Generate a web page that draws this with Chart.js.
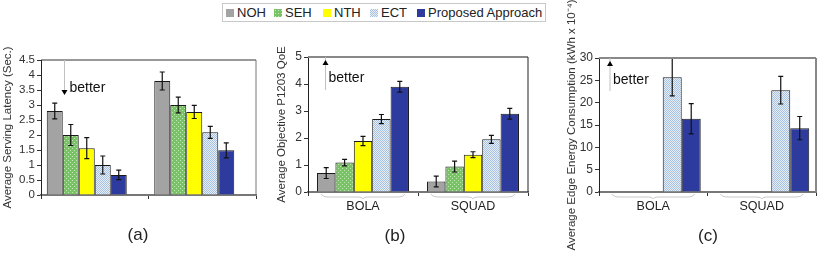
<!DOCTYPE html>
<html>
<head>
<meta charset="utf-8">
<script src="https://cdn.jsdelivr.net/npm/chart.js@4.4.1/dist/chart.umd.min.js"></script>
<style>
  html, body { margin:0; padding:0; background:#fff; }
  body { width:830px; height:263px; position:relative; overflow:hidden; font-family:'Liberation Sans', Arial, sans-serif; color:#222; }
  canvas { position:absolute; top:0; }
  #legend { position:absolute; left:222px; top:3px; width:322px; height:17px; border:1px solid #c8c8c8; z-index:2; background:#fff; font-size:13px; }
  #legend span.item { position:absolute; top:1px; white-space:nowrap; }
  #legend i { display:inline-block; width:8px; height:8px; margin-right:3px; vertical-align:0px; }
  .cap { position:absolute; font-size:17px; transform:translate(-50%,-50%); }
</style>
</head>
<body>
<div id="legend"></div>
<canvas id="latencyChart" width="270" height="263" style="left:0px"></canvas>
<canvas id="qoeChart" width="271" height="263" style="left:274px"></canvas>
<canvas id="energyChart" width="266" height="263" style="left:564px"></canvas>
<div class="cap" style="left:138px;top:235px">(a)</div>
<div class="cap" style="left:395px;top:236px">(b)</div>
<div class="cap" style="left:708px;top:236px">(c)</div>
<script>
// categories / series
const groups = ['BOLA', 'SQUAD'];
const seriesNames = ['NOH', 'SEH', 'NTH', 'ECT', 'Proposed Approach'];

// (a) average serving latency (sec.)
const latNOH  = [2.8, 3.8];
const latSEH  = [2.0, 3.0];
const latNTH  = [1.56, 2.77];
const latECT  = [1.0, 2.09];
const latProp = [0.67, 1.49];
const latErrNOH  = [0.26, 0.3];
const latErrSEH  = [0.35, 0.26];
const latErrNTH  = [0.35, 0.22];
const latErrECT  = [0.3, 0.2];
const latErrProp = [0.16, 0.25];

// (b) average objective P1203 QoE
const qoeNOH  = [0.7, 0.39];
const qoeSEH  = [1.09, 0.94];
const qoeNTH  = [1.89, 1.38];
const qoeECT  = [2.7, 1.95];
const qoeProp = [3.9, 2.9];
const qoeErrNOH  = [0.2, 0.2];
const qoeErrSEH  = [0.12, 0.2];
const qoeErrNTH  = [0.17, 0.11];
const qoeErrECT  = [0.17, 0.15];
const qoeErrProp = [0.2, 0.2];

// (c) average edge energy consumption (kWh x 10^-4)
const engNOH  = [0, 0];
const engSEH  = [0, 0];
const engNTH  = [0, 0];
const engECT  = [25.7, 22.8];
const engProp = [16.4, 14.3];
const engErrECT  = [4.2, 3.1];
const engErrProp = [3.4, 2.6];

// axis ranges
const latTicks = { min: 0, max: 4.5, step: 0.5 };
const qoeTicks = { min: 0, max: 5, step: 1 };
const engTicks = { min: 0, max: 30, step: 5 };

Chart.defaults.font.family = "'Liberation Sans', Arial, sans-serif";
Chart.defaults.color = '#333';

function makePattern(size, draw) {
  const c = document.createElement('canvas');
  c.width = size; c.height = size;
  draw(c.getContext('2d'));
  return c.getContext('2d').createPattern(c, 'repeat');
}
const greenDots = makePattern(4, g => {
  g.fillStyle = '#79c266'; g.fillRect(0, 0, 4, 4);
  g.fillStyle = '#bfe6b4'; g.fillRect(0, 0, 1, 1); g.fillRect(2, 2, 1, 1);
});
const blueCheck = makePattern(2, g => {
  g.fillStyle = '#e6eef8'; g.fillRect(0, 0, 2, 2);
  g.fillStyle = '#a9c1e0'; g.fillRect(0, 0, 1, 1); g.fillRect(1, 1, 1, 1);
});
const fills = ['#a3a3a3', greenDots, '#ffff00', blueCheck, '#2e3b9e'];

// legend
const legendPos = [3, 51, 100, 147, 194];
const swatchCss = [
  'background:#a3a3a3',
  'background:#79c266 radial-gradient(#c8ecc0 35%, transparent 40%) 0 0/3px 3px',
  'background:#ffff00',
  'background:repeating-conic-gradient(#a9c1e0 0 25%, #e6eef8 0 50%) 0 0/2px 2px',
  'background:#2e3b9e'
];
document.getElementById('legend').innerHTML = seriesNames.map((n, i) =>
  `<span class="item" style="left:${legendPos[i]}px"><i style="${swatchCss[i]}"></i>${n}</span>`).join('');

const errorBars = {
  id: 'errorBars',
  afterDatasetsDraw(chart) {
    const ctx = chart.ctx, y = chart.scales.y;
    chart.data.datasets.forEach((ds, i) => {
      if (!ds.errors) return;
      chart.getDatasetMeta(i).data.forEach((bar, j) => {
        const v = ds.data[j], e = ds.errors[j];
        if (!e) return;
        const t = y.getPixelForValue(v + e), b = y.getPixelForValue(v - e);
        ctx.save();
        ctx.strokeStyle = '#111'; ctx.lineWidth = 1.2;
        ctx.beginPath();
        ctx.moveTo(bar.x, t); ctx.lineTo(bar.x, b);
        ctx.moveTo(bar.x - 2.5, t); ctx.lineTo(bar.x + 2.5, t);
        ctx.moveTo(bar.x - 2.5, b); ctx.lineTo(bar.x + 2.5, b);
        ctx.stroke();
        ctx.restore();
      });
    });
  }
};

const decor = {
  id: 'decor',
  afterDraw(chart, args, o) {
    const ctx = chart.ctx, a = chart.chartArea;
    ctx.save();
    // frame top/right
    ctx.strokeStyle = o.topColor; ctx.lineWidth = o.topWidth;
    ctx.beginPath(); ctx.moveTo(a.left, a.top); ctx.lineTo(a.right, a.top); ctx.stroke();
    ctx.strokeStyle = o.rightColor; ctx.lineWidth = o.rightWidth;
    ctx.beginPath(); ctx.moveTo(a.right, a.top); ctx.lineTo(a.right, a.bottom); ctx.stroke();
    // "better" arrow
    const ax = a.left + o.arrowDx;
    ctx.strokeStyle = '#c0c0c0'; ctx.lineWidth = 1;
    ctx.beginPath(); ctx.moveTo(ax, a.top); ctx.lineTo(ax, a.top + 33); ctx.stroke();
    ctx.fillStyle = '#000';
    ctx.beginPath();
    if (o.up) {
      const ty = a.top + 3;
      ctx.moveTo(ax, ty); ctx.lineTo(ax - 3, ty + 5); ctx.lineTo(ax + 3, ty + 5);
    } else {
      const ty = a.top + 35;
      ctx.moveTo(ax, ty); ctx.lineTo(ax - 3, ty - 5); ctx.lineTo(ax + 3, ty - 5);
    }
    ctx.fill();
    ctx.font = "14px 'Liberation Sans', Arial, sans-serif";
    ctx.fillStyle = '#111'; ctx.textBaseline = 'middle';
    ctx.fillText('better', ax + o.textDx, a.top + o.textDy);
    // braces under categories
    if (o.braces) {
      const x = chart.scales.x, w = (a.right - a.left) / groups.length;
      ctx.strokeStyle = '#c8c8c8'; ctx.lineWidth = 1;
      groups.forEach((g, j) => {
        const c = x.getPixelForValue(j), l = c - w * 0.38, r = c + w * 0.38, y0 = a.bottom + 2;
        ctx.beginPath();
        ctx.moveTo(l, y0); ctx.quadraticCurveTo(l + 1, y0 + 3, l + 8, y0 + 3);
        ctx.lineTo(c - 5, y0 + 3); ctx.quadraticCurveTo(c, y0 + 3, c, y0 + 5);
        ctx.quadraticCurveTo(c, y0 + 3, c + 5, y0 + 3);
        ctx.lineTo(r - 8, y0 + 3); ctx.quadraticCurveTo(r - 1, y0 + 3, r, y0);
        ctx.stroke();
      });
    }
    ctx.restore();
  }
};

function buildDatasets(values, errors, catPct, spacer) {
  const sets = values.map((v, i) => ({
    label: seriesNames[i],
    data: v,
    errors: errors[i],
    backgroundColor: fills[i],
    borderColor: '#1a1a1a',
    borderWidth: 1,
    barPercentage: 1,
    categoryPercentage: catPct
  }));
  // empty slot so the visible bars sit left of the category centre, as in the original
  if (spacer) sets.push({ label: '', data: groups.map(() => null), barPercentage: 1, categoryPercentage: catPct });
  return sets;
}

function makeChart(id, cfg) {
  return new Chart(document.getElementById(id), {
    type: 'bar',
    data: { labels: groups, datasets: buildDatasets(cfg.values, cfg.errors, cfg.catPct, cfg.spacer) },
    options: {
      responsive: false,
      animation: false,
      layout: { padding: cfg.padding },
      plugins: { legend: { display: false }, tooltip: { enabled: false }, decor: cfg.decor },
      scales: {
        x: {
          offset: true,
          grid: { display: true, drawOnChartArea: false, offset: true, tickLength: 4, color: '#333' },
          border: { color: '#777', width: 2 },
          ticks: { display: cfg.showLabels, padding: 3, color: '#222', font: { size: 12.5 } },
          afterFit: s => { s.height = cfg.xHeight; }
        },
        y: {
          min: cfg.ticks.min, max: cfg.ticks.max,
          grid: { display: true, drawOnChartArea: false, tickLength: 4, color: '#333' },
          border: { color: '#222', width: 1 },
          ticks: {
            stepSize: cfg.ticks.step, autoSkip: false, maxTicksLimit: 20, padding: 2, color: '#333',
            font: { size: cfg.tickSize, lineHeight: 1 }, callback: v => String(v)
          },
          title: { display: true, text: cfg.title, color: '#333', font: { size: cfg.titleSize }, padding: { top: 1, bottom: 0 } },
          afterFit: s => { s.width = cfg.yWidth; }
        }
      }
    },
    plugins: [errorBars, decor]
  });
}

makeChart('latencyChart', {
  values: [latNOH, latSEH, latNTH, latECT, latProp],
  errors: [latErrNOH, latErrSEH, latErrNTH, latErrECT, latErrProp],
  catPct: 0.893, spacer: true, ticks: latTicks, tickSize: 11.5,
  title: 'Average Serving Latency (Sec.)', titleSize: 11.5,
  yWidth: 41, xHeight: 20, showLabels: false,
  padding: { left: 0, right: 14, top: 60, bottom: 48 },
  decor: { topColor: '#333', topWidth: 1, rightColor: '#777', rightWidth: 1, arrowDx: 23.5, up: false, textDx: 5, textDy: 28, braces: false }
});

makeChart('qoeChart', {
  values: [qoeNOH, qoeSEH, qoeNTH, qoeECT, qoeProp],
  errors: [qoeErrNOH, qoeErrSEH, qoeErrNTH, qoeErrECT, qoeErrProp],
  catPct: 0.836, ticks: qoeTicks, tickSize: 12,
  title: 'Average Objective P1203 QoE', titleSize: 11.5,
  yWidth: 34, xHeight: 30, showLabels: true,
  padding: { left: 0, right: 17, top: 57, bottom: 41 },
  decor: { topColor: '#888', topWidth: 2, rightColor: '#222', rightWidth: 1, arrowDx: 17.5, up: true, textDx: 3, textDy: 21, braces: true }
});

makeChart('energyChart', {
  values: [engNOH, engSEH, engNTH, engECT, engProp],
  errors: [null, null, null, engErrECT, engErrProp],
  catPct: 0.875, ticks: engTicks, tickSize: 12,
  title: 'Average Edge Energy Consumption (kWh x 10⁻⁴)', titleSize: 11.5,
  yWidth: 35, xHeight: 30, showLabels: true,
  padding: { left: 0, right: 14, top: 58, bottom: 41 },
  decor: { topColor: '#888', topWidth: 2, rightColor: '#888', rightWidth: 2, arrowDx: 11, up: true, textDx: 3, textDy: 22, braces: true }
});
</script>
</body>
</html>
